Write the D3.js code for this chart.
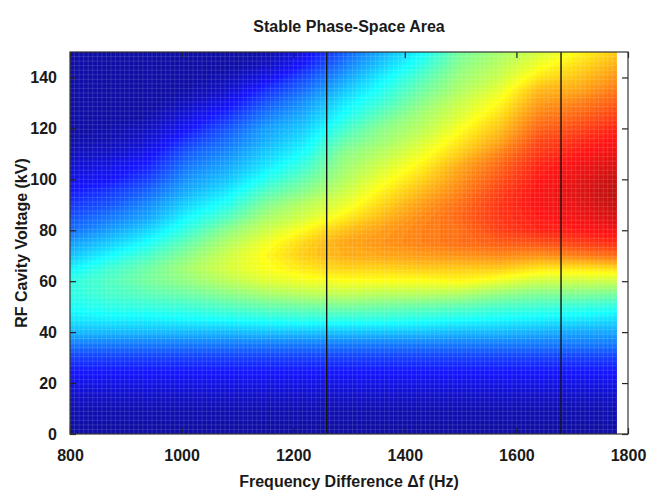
<!DOCTYPE html>
<html>
<head>
<meta charset="utf-8">
<script src="https://cdn.jsdelivr.net/npm/d3@7"></script>
<style>
  body { margin: 0; background: #fff; }
  text { font-family: "Liberation Sans", Arial, Helvetica, sans-serif; font-weight: bold; fill: #1a1a1a; }
</style>
</head>
<body>
<div id="graf"></div>
<script>
// I. Datos

// columnas de la malla: diferencia de frecuencia (Hz)
const freqs = [800, 870, 940, 1010, 1080, 1150, 1220, 1290, 1360, 1430, 1500, 1570, 1640, 1710, 1780]
// filas de la malla: voltaje de la cavidad (kV)
const volts = [0, 5, 10, 15, 20, 25, 30, 35, 40, 45, 50, 55, 60, 65, 70, 75,
               80, 85, 90, 95, 100, 105, 110, 115, 120, 125, 130, 135, 140, 145, 150]
// area estable (escala 0-100), una lista por columna de frecuencia, de 0 a 150 kV
const area = [
  [3,4,5,7,10,13,17,23, 30,35,38,40,40,36,31,27,22,19,16,13,10,8,6,4,3,3,3,3,3,3,4],
  [3,4,5,7,10,13,17,23, 30,36,40,43,44,42,37,32,27,23,19,16,12,10,7,5,4,3,3,3,3,3,3],
  [3,4,5,7,10,13,17,23, 30,36,41,45,48,47,43,38,33,28,25,21,17,14,11,8,6,4,3,3,3,3,3],
  [3,4,5,7,10,13,17,23, 30,37,42,47,51,53,50,46,41,37,33,29,26,23,20,16,12,9,6,4,3,3,3],
  [3,4,5,7,10,13,17,23, 30,38,44,50,55,58,57,54,50,44,39,35,31,28,25,22,19,15,11,7,5,3,3],
  [3,4,5,7,10,13,17,23, 31,39,46,53,59,62,63,61,57,53,49,44,39,35,32,29,27,23,19,15,10,6,4],
  [3,4,5,7,10,13,17,23, 31,40,47,55,61,65,68,67,63,58,55,50,46,42,38,35,32,29,26,22,18,13,10],
  [3,4,5,7,10,13,17,23, 31,40,48,56,62,67,71,72,69,64,60,57,54,52,50,46,42,38,35,31,27,23,20],
  [3,4,5,7,10,13,17,23, 31,40,47,55,62,67,72,74,73,70,67,64,61,58,55,52,50,46,42,39,36,32,29],
  [3,4,5,7,10,13,17,23, 31,39,46,55,62,68,73,76,76,75,73,70,67,64,61,58,55,53,50,47,44,40,37],
  [3,4,5,7,10,13,17,23, 30,38,45,54,63,68,74,78,78,79,78,76,74,72,68,65,62,59,57,54,52,50,48],
  [3,4,5,7,10,13,17,23, 30,37,43,51,60,68,75,80,83,84,84,83,81,79,76,72,69,66,63,60,57,55,53],
  [3,4,5,7,10,13,17,23, 29,36,42,49,57,65,74,81,86,87,88,88,87,86,84,82,79,76,73,70,65,61,58],
  [3,4,5,7,10,13,17,23, 28,35,41,49,57,65,76,83,87,89,90,91,90,89,87,85,82,79,76,72,69,66,63],
  [3,4,5,7,10,13,17,23, 28,34,40,48,57,66,78,85,89,92,94,95,94,92,90,88,86,83,80,77,74,71,68]
]
// lineas verticales marcadas (Hz)
const marcas = [1260, 1680]
// ticks
const xTicks = [800, 1000, 1200, 1400, 1600, 1800]
const yTicks = [0, 20, 40, 60, 80, 100, 120, 140]

// II. Configuracion
const ancho_total = 665, alto_total = 504
const margins = { top: 52, left: 70, right: 37, bottom: 70 }
const ancho = ancho_total - margins.left - margins.right
const alto = alto_total - margins.top - margins.bottom

const svg = d3.select('#graf').append('svg')
  .attr('width', ancho_total)
  .attr('height', alto_total)

const g = svg.append('g')
  .attr('transform', `translate(${margins.left}, ${margins.top})`)

// Escaladores
const x = d3.scaleLinear().domain([800, 1800]).range([0, ancho])
const y = d3.scaleLinear().domain([0, 150]).range([alto, 0])

const color = d3.scaleLinear()
  .domain([0, 12.5, 37.5, 62.5, 87.5, 100])
  .range(['#0c0c84', '#1414ff', '#12ffff', '#ffff12', '#ff1414', '#8e0e0e'])
  .clamp(true)

// clip a la zona con datos
svg.append('defs').append('clipPath').attr('id', 'zona')
  .append('rect')
  .attr('x', x(freqs[0])).attr('y', y(volts[volts.length - 1]))
  .attr('width', x(freqs[freqs.length - 1]) - x(freqs[0]))
  .attr('height', y(volts[0]) - y(volts[volts.length - 1]))

// III. Mapa de color con d3.contours
const n = freqs.length, m = volts.length
const valores = new Array(n * m)
area.forEach((col, i) => col.forEach((v, j) => { valores[j * n + i] = v }))

const df = freqs[1] - freqs[0], dv = volts[1] - volts[0]
const proyeccion = d3.geoTransform({
  point: function (px, py) {
    this.stream.point(x(freqs[0] + (px - 0.5) * df), y(volts[0] + (py - 0.5) * dv))
  }
})
const path = d3.geoPath(proyeccion)

const contornos = d3.contours()
  .size([n, m])
  .thresholds(d3.range(0, 100, 1))(valores)

const mapa = g.append('g').attr('clip-path', 'url(#zona)')

mapa.selectAll('path')
  .data(contornos)
  .join('path')
  .attr('d', path)
  .attr('fill', d => color(d.value + 0.5))
  .attr('stroke', d => color(d.value + 0.5))
  .attr('stroke-width', 0.4)

// rejilla fina de celdas encima
const celdaX = 980 / 120, celdaY = 150 / 84
mapa.append('g').selectAll('line')
  .data(d3.range(freqs[0], freqs[n - 1], celdaX))
  .join('line')
  .attr('x1', d => x(d)).attr('x2', d => x(d))
  .attr('y1', 0).attr('y2', alto)
  .attr('stroke', '#fff').attr('stroke-opacity', 0.18).attr('stroke-width', 0.7)
mapa.append('g').selectAll('line')
  .data(d3.range(0, 150, celdaY))
  .join('line')
  .attr('x1', 0).attr('x2', x(freqs[n - 1]))
  .attr('y1', d => y(d)).attr('y2', d => y(d))
  .attr('stroke', '#fff').attr('stroke-opacity', 0.18).attr('stroke-width', 0.7)

// lineas verticales
g.selectAll('.marca')
  .data(marcas)
  .join('line')
  .attr('class', 'marca')
  .attr('x1', d => x(d)).attr('x2', d => x(d))
  .attr('y1', 0).attr('y2', alto)
  .attr('stroke', '#151515').attr('stroke-width', 1.4)

// IV. Ejes
const tick = 6
const fmt = d3.format('d')
g.append('g')
  .attr('transform', `translate(0, ${alto})`)
  .call(d3.axisBottom(x).tickValues(xTicks).tickFormat(fmt).tickSizeInner(-tick).tickSizeOuter(0).tickPadding(16))
g.append('g')
  .call(d3.axisTop(x).tickValues(xTicks).tickSizeInner(-tick).tickSizeOuter(0).tickFormat(''))
g.append('g')
  .call(d3.axisLeft(y).tickValues(yTicks).tickFormat(fmt).tickSizeInner(-tick).tickSizeOuter(0).tickPadding(13))
g.append('g')
  .attr('transform', `translate(${ancho}, 0)`)
  .call(d3.axisRight(y).tickValues(yTicks).tickSizeInner(-tick).tickSizeOuter(0).tickFormat(''))

g.selectAll('.domain').remove()
g.selectAll('.tick line').attr('stroke', '#222').attr('stroke-width', 1.2)
g.selectAll('.tick text').style('font-size', '16px').attr('fill', '#1a1a1a')

g.append('rect')
  .attr('width', ancho).attr('height', alto)
  .attr('fill', 'none').attr('stroke', '#333').attr('stroke-width', 1.2)

// V. Textos
svg.append('text')
  .attr('x', margins.left + ancho / 2).attr('y', 32)
  .attr('text-anchor', 'middle').style('font-size', '16px')
  .text('Stable Phase-Space Area')

svg.append('text')
  .attr('x', margins.left + ancho / 2).attr('y', 487)
  .attr('text-anchor', 'middle').style('font-size', '16px')
  .text('Frequency Difference \u0394f (Hz)')

svg.append('text')
  .attr('transform', `translate(27, ${margins.top + alto / 2}) rotate(-90)`)
  .attr('text-anchor', 'middle').style('font-size', '16px')
  .text('RF Cavity Voltage (kV)')
</script>
</body>
</html>
